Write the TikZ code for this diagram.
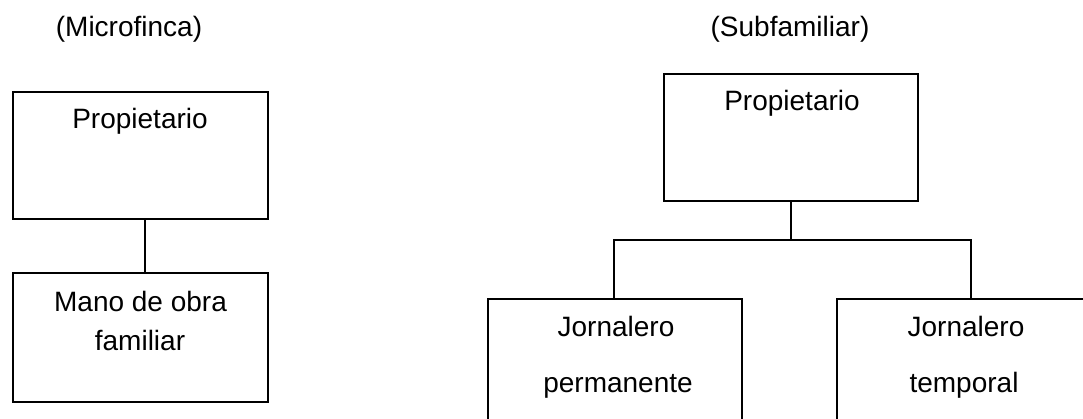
\documentclass[tikz,border=0pt]{standalone}
\usepackage{fontspec}
\setmainfont{Liberation Sans}
\begin{document}
\begin{tikzpicture}[x=1pt,y=-1pt,
  box/.style={draw,line width=1.6pt,rectangle,inner sep=0pt},
  txt/.style={anchor=base,inner sep=0pt,font=\fontsize{28}{34}\selectfont},
  conn/.style={line width=1.6pt}]
\useasboundingbox (0,0) rectangle (1083,419);
\clip (0,0) rectangle (1083,419);
% titles
\node[txt] (t1) at (129,37) {(Microfinca)};
\node[txt] (t2) at (790,37) {(Subfamiliar)};
% left boxes
\node[box,minimum width=255pt,minimum height=127pt] (L1) at (140.4,155.4) {};
\node[box,minimum width=255pt,minimum height=129pt] (L2) at (140.4,337.5) {};
\node[txt] (l1a) at (140,129) {Propietario};
\node[txt] (l2a) at (140.5,312) {Mano de obra};
\node[txt] (l2b) at (140,350) {familiar};
% right boxes
\node[box,minimum width=254pt,minimum height=127pt] (R0) at (791,137.5) {};
\node[box,minimum width=254pt,minimum height=131pt] (RA) at (615,364.5) {};
\node[box,minimum width=258pt,minimum height=131pt] (RB) at (966,364.5) {};
\node[txt] (r0a) at (792,111) {Propietario};
\node[txt] (raa) at (616,336) {Jornalero};
\node[txt] (rab) at (618,392) {permanente};
\node[txt] (rba) at (966,336) {Jornalero};
\node[txt] (rbb) at (964,392) {temporal};
% connectors
\draw[conn] ([xshift=4.6pt]L1.south) -- ([xshift=4.6pt]L2.north);
\coordinate (j) at (791,240);
\coordinate (ja) at (614,240);
\coordinate (jb) at (971,240);
\draw[conn] (R0.south) -- (j);
\draw[conn] (RA.north -| ja) -- (ja) -- (jb) -- (RB.north -| jb);
\end{tikzpicture}
\end{document}
